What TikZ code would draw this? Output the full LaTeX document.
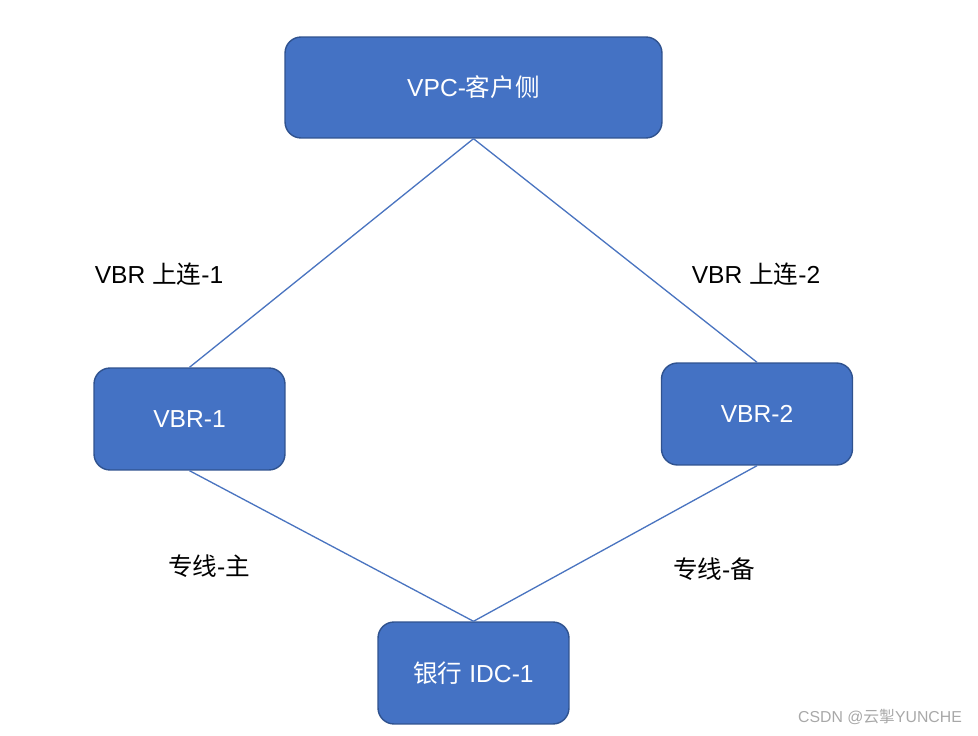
\documentclass[tikz,border=0pt]{standalone}
\usepackage{fontspec}
\setmainfont{Liberation Sans}
\newfontfamily\cjk{Noto Sans CJK SC}
\usetikzlibrary{positioning}

\definecolor{boxfill}{HTML}{4472C4}
\definecolor{boxline}{HTML}{2F528F}
\definecolor{linkcol}{HTML}{4A74C0}
\definecolor{markgray}{HTML}{A8A8A8}

\tikzset{
  netbox/.style={draw=boxline, line width=0.8pt, fill=boxfill, rounded corners=0.32cm,
    text=white, font=\fontsize{14}{16}\selectfont, inner sep=0pt},
  link/.style={draw=linkcol, line width=0.75pt},
  linklabel/.style={font=\fontsize{14}{16}\selectfont, text=black}
}

\begin{document}
\begin{tikzpicture}[x=0.02cm, y=-0.02cm]
                \useasboundingbox (0,0) rectangle (978,736);
                % Boxes
                \node[netbox, minimum width=7.54cm, minimum height=2.02cm] (vpc) at (473.5,87.5) {VPC-{\cjk 客户侧}};
                \node[netbox, minimum width=3.82cm, minimum height=2.04cm] (vbra) at (189.5,419) {VBR-1};
                \node[netbox, minimum width=3.82cm, minimum height=2.04cm] (vbrb) at (757,414) {VBR-2};
                \node[netbox, minimum width=3.82cm, minimum height=2.04cm] (idc) at (473.5,673) {{\cjk 银行} IDC-1};
                
                % Links
                \draw[link] (vpc.south) -- (vbra.north);
                \draw[link] (vpc.south) -- (vbrb.north);
                \draw[link] (vbra.south) -- (idc.north);
                \draw[link] (vbrb.south) -- (idc.north);
                
                % Link labels
                \node[linklabel] (upa) at (159,274) {VBR {\cjk 上连}-1};
                \node[linklabel] (upb) at (756,274) {VBR {\cjk 上连}-2};
                \node[linklabel] (maina) at (209,566) {{\cjk 专线}-{\cjk 主}};
                \node[linklabel] (backb) at (714,569) {{\cjk 专线}-{\cjk 备}};
                
                % Watermark
                \node[text=markgray, font=\fontsize{9}{11}\selectfont] (mark) at (880,717) {CSDN @{\cjk 云掣}YUNCHE};
            \end{tikzpicture}
\end{document}
